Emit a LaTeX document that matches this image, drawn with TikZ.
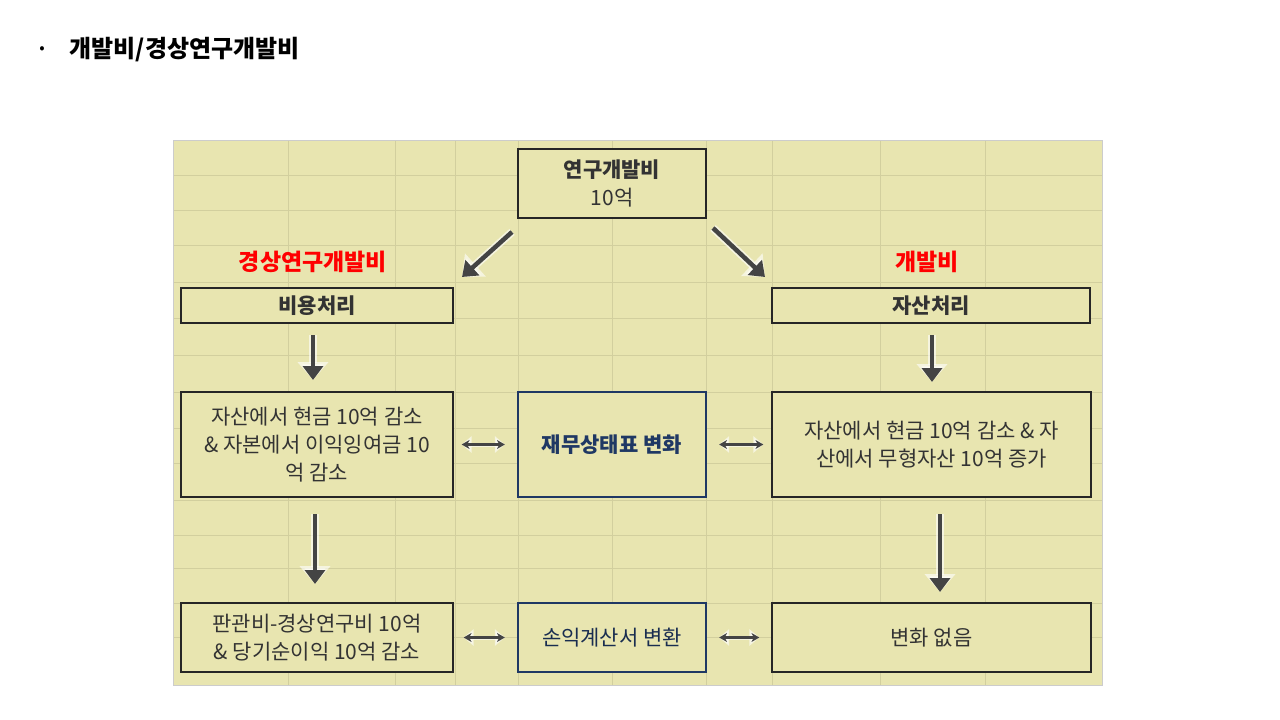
\documentclass[tikz,border=0pt]{standalone}
\usepackage{fontspec}
\setmainfont{Noto Sans CJK KR}
\usetikzlibrary{arrows.meta}
\definecolor{bgk}{HTML}{E8E5B0}
\definecolor{gridc}{HTML}{D2CF9E}
\definecolor{navy}{HTML}{1F3864}
\definecolor{arrg}{HTML}{444444}
\tikzset{
  box/.style={draw=black!85,line width=2.2pt,fill=bgk,inner sep=0pt,align=center,font=\fontsize{21}{28}\selectfont,text=black!80},
  bbox/.style={box,draw=navy},
  bigarr/.style={-{Triangle[length=14pt,width=20pt]},line width=4.5pt,arrg},
  glow/.style={-{Triangle[length=18pt,width=30pt]},line width=8pt,white,opacity=0.6},
  dbl/.style={{Stealth[length=8pt,width=9pt]}-{Stealth[length=8pt,width=9pt]},line width=2.2pt,arrg},
  dblglow/.style={{Triangle[length=10pt,width=16pt]}-{Triangle[length=10pt,width=16pt]},line width=4pt,white,opacity=0.6},
  redl/.style={text=red,font=\fontsize{23}{27}\selectfont\bfseries}
}
\begin{document}
\begin{tikzpicture}[x=1pt,y=-1pt]
\useasboundingbox (0,0) rectangle (1280,720);
\fill[white] (0,0) rectangle (1280,720);
\node[font=\fontsize{16}{16}\selectfont] (bul) at (42,50) {•};
\node[anchor=west,font=\fontsize{24}{28}\selectfont\bfseries] (title) at (66,50) {개발비/경상연구개발비};
% panel
\fill[bgk] (173,140) rectangle (1102,685);
\foreach \x in {288,395,455,518,612,706,772,880,985}
  \draw[gridc,line width=0.8pt] (\x,140) -- (\x,685);
\foreach \y in {175,210,245,282,318,355,392,428,463,500,535,568,603,637}
  \draw[gridc,line width=0.8pt] (173,\y) -- (1102,\y);
\draw[black!20,line width=1pt] (173,140) rectangle (1102,685);
% boxes
\node[box,minimum width=188pt,minimum height=69pt] (top) at (612,183.5) {\textbf{연구개발비}\\10억};
\node[box,minimum width=272pt,minimum height=35pt] (cost) at (317,305.5) {\textbf{비용처리}};
\node[box,minimum width=318pt,minimum height=35pt] (asset) at (931,305.5) {\textbf{자산처리}};
\node[box,line width=1.2pt,minimum width=272pt,minimum height=105pt] (lm) at (317,444.5) {자산에서 현금 10억 감소\\\& 자본에서 이익잉여금 10\\억 감소};
\node[bbox,minimum width=188pt,minimum height=105pt,text=navy] (bs) at (612,444.5) {\textbf{재무상태표 변화}};
\node[box,line width=1.2pt,minimum width=319pt,minimum height=105pt] (rm) at (931.5,444.5) {자산에서 현금 10억 감소 \& 자\\산에서 무형자산 10억 증가};
\node[box,line width=1.2pt,minimum width=272pt,minimum height=69pt] (lb) at (317,637.5) {판관비-경상연구비 10억\\\& 당기순이익 10억 감소};
\node[bbox,minimum width=188pt,minimum height=69pt,text=navy!80!black] (pl) at (612,637.5) {손익계산서 변환};
\node[box,line width=1.2pt,minimum width=319pt,minimum height=69pt] (rb) at (931.5,637.5) {변화 없음};
\node[redl] (rl) at (313,262) {경상연구개발비};
\node[redl] (rr) at (927,262) {개발비};
% arrows
\coordinate (d1s) at (512,232); \coordinate (d1e) at (462,277);
\coordinate (d2s) at (713,228); \coordinate (d2e) at (765,277);
\coordinate (a1s) at (313,335); \coordinate (a1e) at (313,380);
\coordinate (a2s) at (932,335); \coordinate (a2e) at (932,382);
\coordinate (a3s) at (315,514); \coordinate (a3e) at (315,584);
\coordinate (a4s) at (940,514); \coordinate (a4e) at (940,592);
\foreach \s/\e in {d1s/d1e,d2s/d2e,a1s/a1e,a2s/a2e,a3s/a3e,a4s/a4e}{
  \draw[glow] (\s) -- (\e);
  \draw[bigarr] (\s) -- (\e);
}
\draw[dblglow] ([xshift=8pt]lm.east) -- ([xshift=-12pt]bs.west);
\draw[dbl] ([xshift=8pt]lm.east) -- ([xshift=-12pt]bs.west);
\draw[dblglow] ([xshift=12pt]bs.east) -- ([xshift=-8pt]rm.west);
\draw[dbl] ([xshift=12pt]bs.east) -- ([xshift=-8pt]rm.west);
\draw[dblglow] ([xshift=10pt]lb.east) -- ([xshift=-12pt]pl.west);
\draw[dbl] ([xshift=10pt]lb.east) -- ([xshift=-12pt]pl.west);
\draw[dblglow] ([xshift=12pt]pl.east) -- ([xshift=-12pt]rb.west);
\draw[dbl] ([xshift=12pt]pl.east) -- ([xshift=-12pt]rb.west);
\end{tikzpicture}
\end{document}
